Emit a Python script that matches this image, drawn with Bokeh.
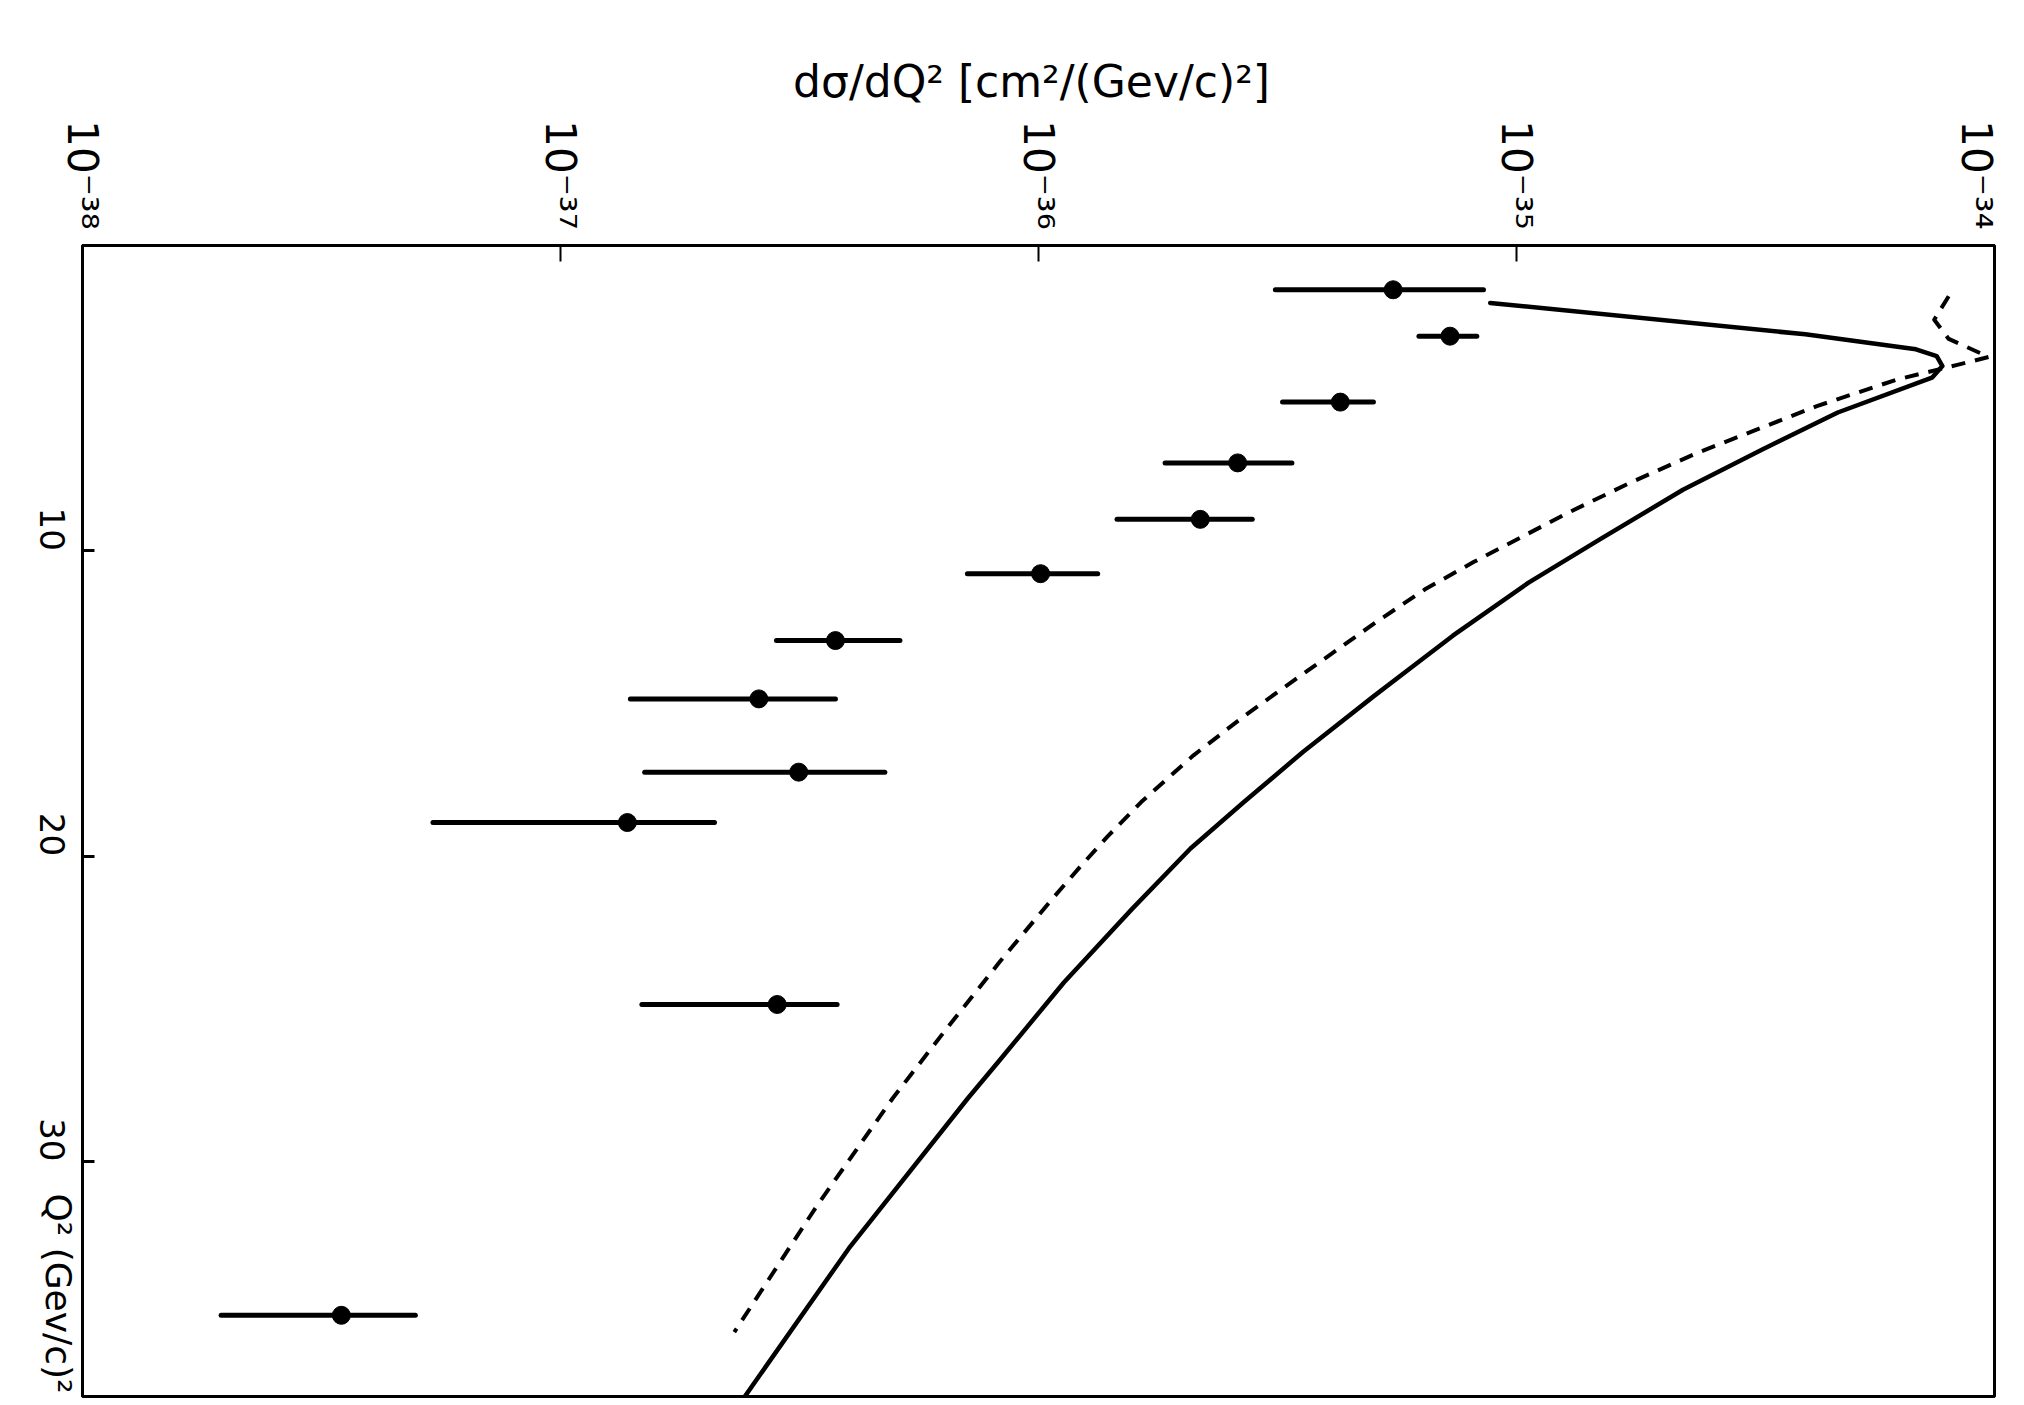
import math
from bokeh.plotting import figure
from bokeh.models import (Range1d, FixedTicker, CustomJSTickFormatter, LinearAxis,
                          ColumnDataSource)
from bokeh.embed import file_html
from bokeh.resources import INLINE

# ---- data ----
# measured points: Q^2 [(GeV/c)^2], dsigma/dQ^2 [cm^2/(GeV/c)^2] with horizontal error bars
pt_q2 = [1.45, 2.97, 5.13, 7.12, 8.97, 10.75, 12.94, 14.85, 17.25, 18.90, 24.86, 35.04]
pt_sig = [5.52e-36, 7.26e-36, 4.28e-36, 2.61e-36, 2.18e-36, 1.01e-36, 3.76e-37, 2.60e-37,
          3.15e-37, 1.38e-37, 2.84e-37, 3.48e-38]
pt_lo = [3.13e-36, 6.25e-36, 3.24e-36, 1.84e-36, 1.46e-36, 7.10e-37, 2.83e-37, 1.40e-37,
         1.50e-37, 5.41e-38, 1.48e-37, 1.95e-38]
pt_hi = [8.53e-36, 8.26e-36, 5.02e-36, 3.39e-36, 2.80e-36, 1.33e-36, 5.13e-37, 3.76e-37,
         4.77e-37, 2.10e-37, 3.79e-37, 4.97e-38]

# solid theory curve
solid_q2 = [1.88, 2.91, 3.40, 3.62, 3.95, 4.33, 5.47, 6.69, 8.00, 9.61, 11.04, 12.78, 13.75,
            14.76, 16.58, 18.23, 19.75, 21.73, 24.14, 26.72, 27.94, 32.85, 37.7]
solid_sig = [8.81e-36, 4.02e-35, 6.85e-35, 7.57e-35, 7.78e-35, 7.40e-35, 4.70e-35, 3.26e-35,
             2.23e-35, 1.50e-35, 1.06e-35, 7.36e-36, 6.11e-36, 5.03e-36, 3.58e-36, 2.69e-36,
             2.08e-36, 1.57e-36, 1.13e-36, 8.26e-37, 7.11e-37, 4.01e-37, 2.43e-37]

# dashed theory curve
dash_q2 = [1.66, 2.43, 3.06, 3.65, 3.92, 4.39, 5.26, 6.78, 7.75, 8.76, 10.37, 11.25, 12.35,
           14.11, 15.40, 16.70, 18.23, 19.33, 20.30, 21.39, 23.47, 25.75, 27.94, 31.45, 35.59]
dash_sig = [8.02e-35, 7.48e-35, 8.02e-35, 9.73e-35, 8.32e-35, 6.25e-35, 4.25e-35, 2.40e-35,
            1.74e-35, 1.28e-35, 8.13e-36, 6.45e-36, 5.07e-36, 3.52e-36, 2.70e-36, 2.11e-36,
            1.64e-36, 1.40e-36, 1.23e-36, 1.07e-36, 8.29e-37, 6.35e-37, 4.95e-37, 3.44e-37,
            2.31e-37]

x_ticks = [1e-38, 1e-37, 1e-36, 1e-35, 1e-34]
x_tick_labels = ["10\u207b\u00b3\u2078", "10\u207b\u00b3\u2077", "10\u207b\u00b3\u2076",
                 "10\u207b\u00b3\u2075", "10\u207b\u00b3\u2074"]
y_ticks = [10, 20, 30]
y_tick_labels = ["10", "20", "30"]
x_title = "d\u03c3/dQ\u00b2  [cm\u00b2/(Gev/c)\u00b2]"
y_title = "Q\u00b2 (Gev/c)\u00b2"
y_title_at = [37.6]

FONT = "DejaVu Sans"

p = figure(width=2000, height=1398, x_axis_type="log",
           x_range=Range1d(1e-38, 1e-34), y_range=Range1d(37.7, 0),
           x_axis_location="above", y_axis_location="left",
           output_backend="svg", toolbar_location=None,
           min_border_left=82, min_border_right=6, min_border_top=245, min_border_bottom=2)
p.grid.visible = False
p.outline_line_color = "black"
p.outline_line_width = 3
p.background_fill_color = "white"
p.border_fill_color = "white"

# top (log) axis
xa = p.xaxis[0]
xa.ticker = FixedTicker(ticks=x_ticks, minor_ticks=[])
xa.formatter = CustomJSTickFormatter(args=dict(tvals=x_ticks, tlabels=x_tick_labels), code="""
    let best = 0, bd = 1e9;
    for (let i = 0; i < tvals.length; i++) {
        const d = Math.abs(Math.log10(tick) - Math.log10(tvals[i]));
        if (d < bd) { bd = d; best = i; }
    }
    return tlabels[best];
""")
xa.major_label_orientation = -math.pi / 2
xa.major_label_text_font = FONT
xa.major_label_text_font_size = "42px"
xa.major_label_text_color = "black"
xa.major_label_standoff = 16
xa.major_tick_in = 16
xa.major_tick_out = 0
xa.major_tick_line_width = 2
xa.minor_tick_line_color = None
xa.axis_line_width = 3
xa.axis_label = x_title
xa.axis_label_text_font = FONT
xa.axis_label_text_font_size = "44px"
xa.axis_label_text_font_style = "normal"
xa.axis_label_text_color = "black"
xa.axis_label_standoff = 10

# left (Q^2) axis
ya = p.yaxis[0]
ya.ticker = FixedTicker(ticks=y_ticks, minor_ticks=[])
ya.formatter = CustomJSTickFormatter(args=dict(tvals=y_ticks, tlabels=y_tick_labels), code="""
    let best = 0, bd = 1e9;
    for (let i = 0; i < tvals.length; i++) {
        const d = Math.abs(tick - tvals[i]);
        if (d < bd) { bd = d; best = i; }
    }
    return tlabels[best];
""")
ya.major_label_orientation = -math.pi / 2
ya.major_label_text_font = FONT
ya.major_label_text_font_size = "34px"
ya.major_label_text_color = "black"
ya.major_label_standoff = 30
ya.major_tick_in = 12
ya.major_tick_out = 0
ya.major_tick_line_width = 3
ya.minor_tick_line_color = None
ya.axis_line_width = 3

# extra left axis carrying only the Q^2 title near the bottom
qa = LinearAxis(ticker=FixedTicker(ticks=y_title_at, minor_ticks=[]),
                formatter=CustomJSTickFormatter(args=dict(ttl=y_title), code="return ttl;"))
qa.major_label_orientation = -math.pi / 2
qa.major_label_text_font = FONT
qa.major_label_text_font_size = "36px"
qa.major_label_text_color = "black"
qa.major_label_standoff = -40
qa.major_tick_line_color = None
qa.minor_tick_line_color = None
qa.axis_line_color = None
p.add_layout(qa, "left")

# curves
p.line(solid_sig, solid_q2, line_color="black", line_width=4.5, line_join="round", line_cap="round")
p.line(dash_sig, dash_q2, line_color="black", line_width=4, line_dash="14 10", line_join="round")

# data points with error bars
src = ColumnDataSource(dict(q2=pt_q2, sig=pt_sig, lo=pt_lo, hi=pt_hi))
p.segment(x0="lo", y0="q2", x1="hi", y1="q2", source=src, line_color="black",
          line_width=5, line_cap="round")
p.scatter(x="sig", y="q2", source=src, size=18, fill_color="black", line_color="black")

open("out.html", "w").write(file_html(p, INLINE))
